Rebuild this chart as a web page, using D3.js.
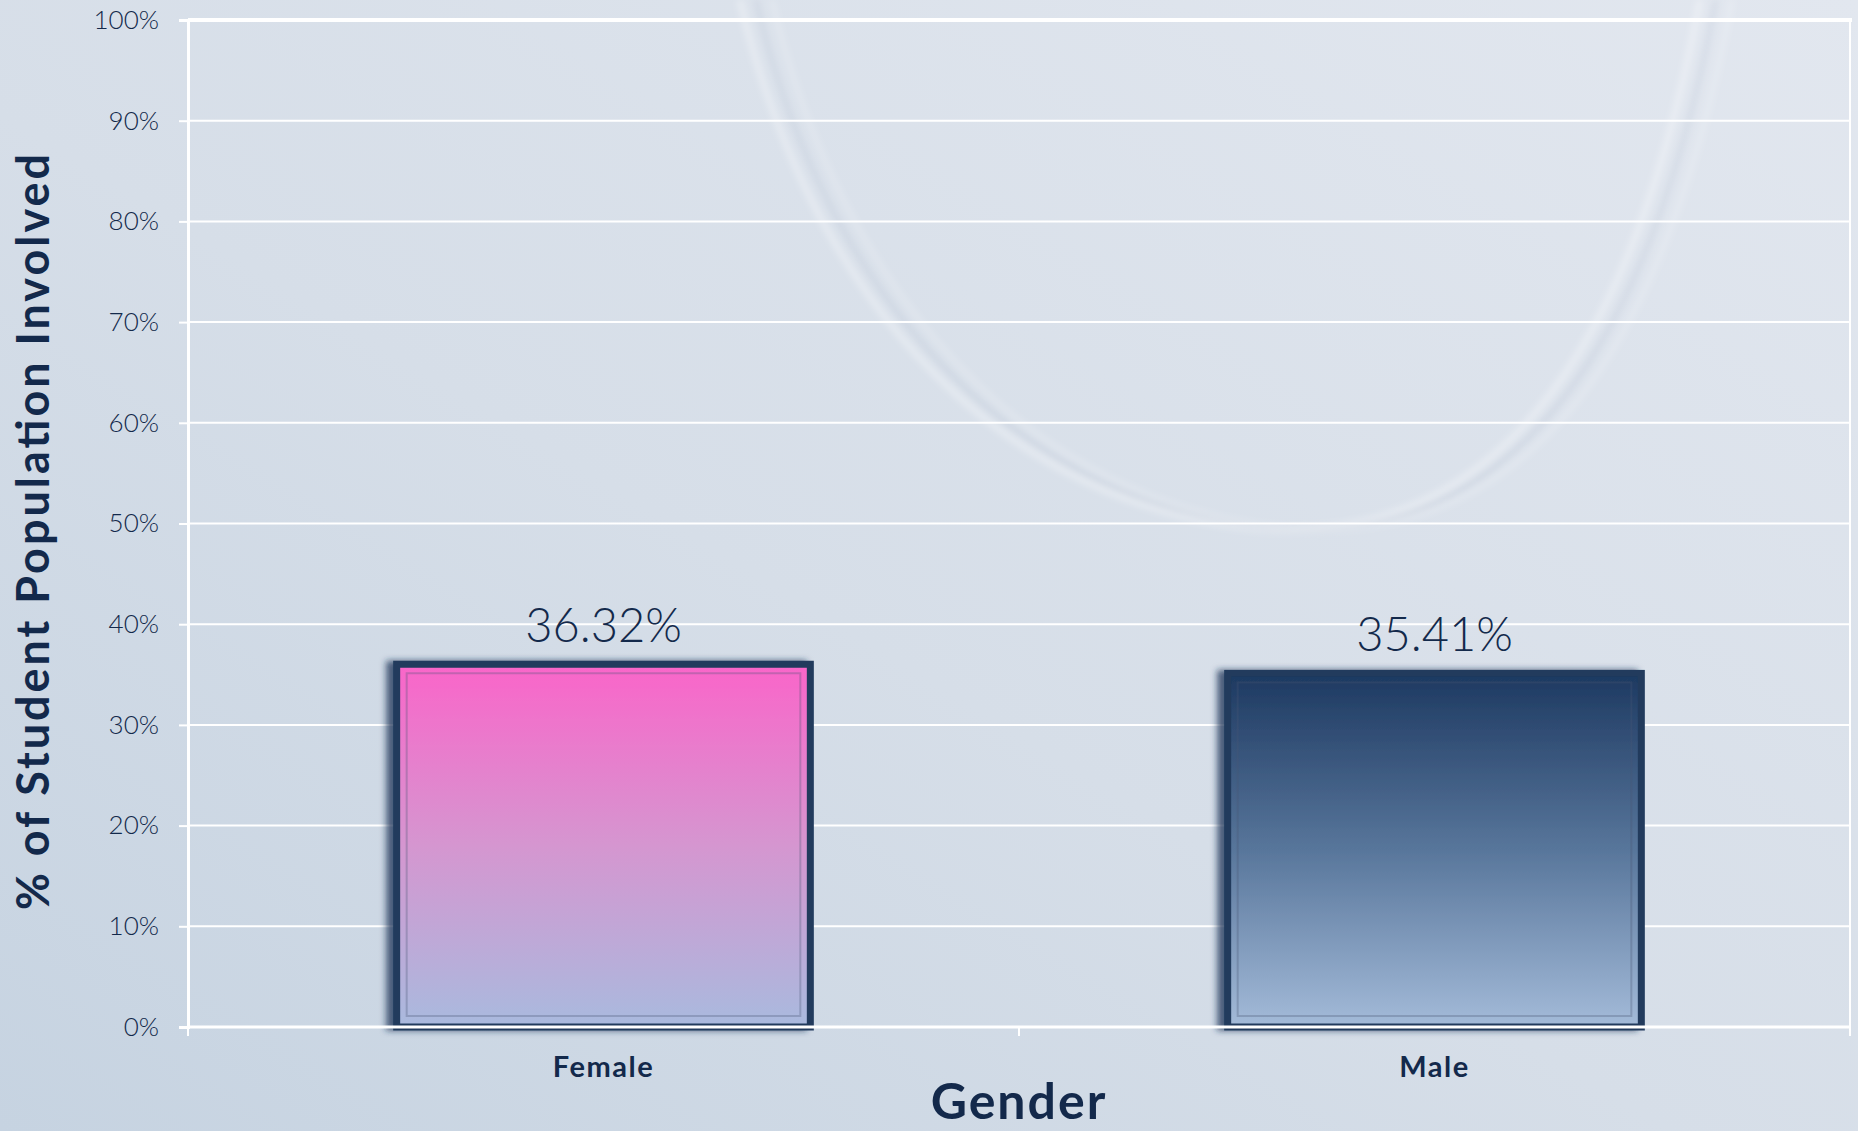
<!DOCTYPE html>
<html lang="en">
<head>
<meta charset="UTF-8">
<title>Gender chart</title>
<style>
  html, body { margin: 0; padding: 0; background: #dbe2eb; }
  svg { display: block; }
  text { fill: #13294b; font-family: "Lato", "Noto Sans", sans-serif; }
  .tick-text { font-size: 26px; font-weight: 300; }
  .value { font-size: 47px; font-weight: 300; }
  .cat { font-size: 29px; font-weight: 700; letter-spacing: 1.5px; }
  .title { font-weight: 700; }
  line.grid { stroke: #ffffff; stroke-width: 2; }
</style>
</head>
<body>
<div id="chart"></div>
<script src="https://cdnjs.cloudflare.com/ajax/libs/d3/7.8.5/d3.min.js"></script>
<script>
var categories = ["Female", "Male"];
var values = [36.32, 35.41];
var valueLabels = ["36.32%", "35.41%"];
var yTicks = [0, 10, 20, 30, 40, 50, 60, 70, 80, 90, 100];
var yTitle = "% of Student Population Involved";
var xTitle = "Gender";

var W = 1858, H = 1131;
var plotLeft = 188, plotRight = 1850, plotTop = 20, plotBottom = 1027;

var svg = d3.select("#chart").append("svg").attr("width", W).attr("height", H);
var defs = svg.append("defs");

// page background
var bg = defs.append("linearGradient").attr("id", "bg")
  .attr("x1", "0%").attr("y1", "100%").attr("x2", "100%").attr("y2", "0%");
bg.append("stop").attr("offset", "0%").attr("stop-color", "#c6d3e1");
bg.append("stop").attr("offset", "45%").attr("stop-color", "#d6dee8");
bg.append("stop").attr("offset", "100%").attr("stop-color", "#e2e7ef");
svg.append("rect").attr("width", W).attr("height", H).attr("fill", "url(#bg)");

// faint swirl in the background
var blur = defs.append("filter").attr("id", "soft");
blur.append("feGaussianBlur").attr("stdDeviation", 3);
var swirl = svg.append("g").attr("fill", "none").attr("filter", "url(#soft)");
[[0, "#ffffff", 0.3, 7], [16, "#a9b5c6", 0.25, 4], [32, "#ffffff", 0.2, 5]].forEach(function(s) {
  swirl.append("path")
    .attr("d", "M" + (740 + s[0]) + ",0 C" + (800 + s[0]) + ",260 " + (960 + s[0]) + ",470 " + (1200 + s[0]) + ",520 S" + (1620 + s[0]) + ",430 " + (1700 + s[0]) + ",0")
    .attr("stroke", s[1]).attr("stroke-opacity", s[2]).attr("stroke-width", s[3]);
});

// bar gradients
var grads = [["#fa65c9", "#d596d0", "#a9bade"], ["#1d3961", "#58769b", "#a4bbd9"]];
grads.forEach(function(g, i) {
  var lg = defs.append("linearGradient").attr("id", "bar" + i)
    .attr("x1", 0).attr("y1", 0).attr("x2", 0).attr("y2", 1);
  lg.append("stop").attr("offset", "0%").attr("stop-color", g[0]);
  lg.append("stop").attr("offset", "50%").attr("stop-color", g[1]);
  lg.append("stop").attr("offset", "100%").attr("stop-color", g[2]);
});
var f = defs.append("filter").attr("id", "shadow")
  .attr("x", "-10%").attr("y", "-10%").attr("width", "120%").attr("height", "120%");
f.append("feDropShadow").attr("dx", -7).attr("dy", 0).attr("stdDeviation", 3)
  .attr("flood-color", "#1b3356").attr("flood-opacity", 0.75);

var x = d3.scaleBand().domain(categories).range([plotLeft, plotRight])
  .paddingInner(0.495).paddingOuter(0.2475);
var y = d3.scaleLinear().domain([0, 100]).range([plotBottom, plotTop]);

// grid
svg.selectAll("line.grid").data(yTicks.slice(1, -1)).enter().append("line")
  .attr("class", "grid")
  .attr("x1", plotLeft).attr("x2", plotRight)
  .attr("y1", function(d) { return y(d); }).attr("y2", function(d) { return y(d); });

// plot frame
svg.append("line").attr("x1", plotLeft).attr("x2", plotRight + 2).attr("y1", y(100)).attr("y2", y(100))
  .attr("stroke", "#fff").attr("stroke-width", 4);
svg.append("line").attr("x1", plotRight).attr("x2", plotRight).attr("y1", y(100)).attr("y2", plotBottom)
  .attr("stroke", "#fff").attr("stroke-width", 2);

// y axis
var yAxis = svg.append("g").attr("transform", "translate(" + plotLeft + ",0)")
  .call(d3.axisLeft(y).tickValues(yTicks).tickSize(9).tickPadding(20)
    .tickFormat(function(d) { return d + "%"; }));
yAxis.select(".domain").attr("stroke", "#fff").attr("stroke-width", 3);
yAxis.selectAll(".tick line").attr("stroke", "#fff").attr("stroke-width", 2);
yAxis.selectAll(".tick text").attr("class", "tick-text").attr("fill", "#13294b")
  .attr("font-family", null).attr("font-size", null);

// bars
var bars = svg.selectAll("g.bar").data(values).enter().append("g").attr("class", "bar");
bars.append("rect")
  .attr("x", function(d, i) { return x(categories[i]) + 3; })
  .attr("y", function(d) { return y(d) + 3; })
  .attr("width", x.bandwidth() - 6)
  .attr("height", function(d) { return plotBottom - y(d) - 3; })
  .attr("fill", function(d, i) { return "url(#bar" + i + ")"; })
  .attr("stroke", "#203a5d").attr("stroke-width", 7)
  .attr("filter", "url(#shadow)");
bars.append("rect")
  .attr("x", function(d, i) { return x(categories[i]) + 13; })
  .attr("y", function(d) { return y(d) + 12; })
  .attr("width", x.bandwidth() - 26)
  .attr("height", function(d) { return plotBottom - y(d) - 23; })
  .attr("fill", "none").attr("stroke", "#4a5575").attr("stroke-opacity", 0.3).attr("stroke-width", 2);

// x axis (baseline)
svg.append("line").attr("x1", plotLeft).attr("x2", plotRight).attr("y1", plotBottom).attr("y2", plotBottom)
  .attr("stroke", "#fff").attr("stroke-width", 3);
svg.selectAll("line.xtick").data([plotLeft, (plotLeft + plotRight) / 2, plotRight]).enter().append("line")
  .attr("class", "xtick")
  .attr("x1", function(d) { return d; }).attr("x2", function(d) { return d; })
  .attr("y1", plotBottom).attr("y2", plotBottom + 9)
  .attr("stroke", "#fff").attr("stroke-width", 2);

// value labels
svg.selectAll("text.value").data(values).enter().append("text")
  .attr("class", "value")
  .attr("x", function(d, i) { return x(categories[i]) + x.bandwidth() / 2; })
  .attr("y", function(d) { return y(d) - 19; })
  .attr("text-anchor", "middle")
  .text(function(d, i) { return valueLabels[i]; });

// category labels
svg.selectAll("text.cat").data(categories).enter().append("text")
  .attr("class", "cat")
  .attr("x", function(d) { return x(d) + x.bandwidth() / 2; })
  .attr("y", 1077)
  .attr("text-anchor", "middle")
  .text(function(d) { return d; });

// titles
svg.append("text").attr("class", "title")
  .attr("x", (plotLeft + plotRight) / 2).attr("y", 1119)
  .attr("text-anchor", "middle").attr("font-size", 50).attr("letter-spacing", 2)
  .text(xTitle);
svg.append("text").attr("class", "title")
  .attr("transform", "translate(49,532) rotate(-90)")
  .attr("text-anchor", "middle").attr("font-size", 45)
  .attr("textLength", 756).attr("lengthAdjust", "spacing")
  .text(yTitle);
</script>
</body>
</html>
